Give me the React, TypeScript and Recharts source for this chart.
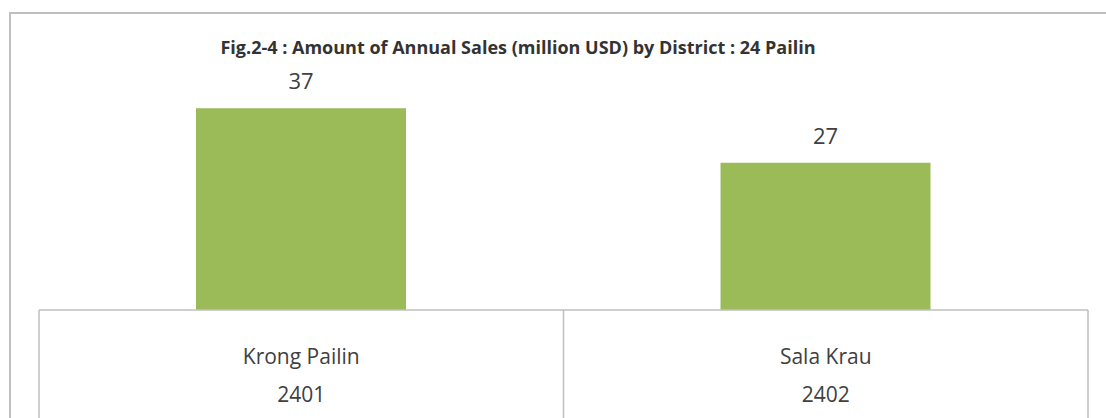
import React from 'react';
import { BarChart, Bar, XAxis, YAxis, LabelList } from 'recharts';

const districts = ['Krong Pailin', 'Sala Krau'];
const districtCodes = ['2401', '2402'];
const sales = [37, 27];

const chartData = districts.map((name, i) => ({
  name,
  code: districtCodes[i],
  sales: sales[i],
}));

const W = 1106;
const H = 418;
const MARGIN = { top: 92, right: 18, bottom: 0, left: 39 };
const AXIS_H = 108;
const AXIS_TOP = H - AXIS_H;
const FONT = '"Open Sans", "Noto Sans", sans-serif';
const GRID = '#bfbfbf';

// half width of one category band, for the divider lines under the bars
const halfBand = (W - MARGIN.left - MARGIN.right) / districts.length / 2;

const CategoryTick = (props: any) => {
  const { x, payload, index } = props;
  const row = chartData[index];
  return (
    <g>
      <line x1={x - halfBand} y1={AXIS_TOP} x2={x - halfBand} y2={H} stroke={GRID} strokeWidth={1.5} />
      {index === districts.length - 1 && (
        <line x1={x + halfBand} y1={AXIS_TOP} x2={x + halfBand} y2={H} stroke={GRID} strokeWidth={1.5} />
      )}
      <text x={x} y={AXIS_TOP + 54} textAnchor="middle" fontSize={21} fill="#404040" fontFamily={FONT}>
        {payload.value}
      </text>
      <text x={x} y={AXIS_TOP + 92} textAnchor="middle" fontSize={21} fill="#404040" fontFamily={FONT}>
        {row ? row.code : ''}
      </text>
    </g>
  );
};

export default function App() {
  return (
    <div style={{ position: 'absolute', left: 0, top: 0, width: W, height: H, background: '#fff' }}>
      <div
        style={{
          position: 'absolute',
          left: 9,
          top: 12,
          right: -4,
          bottom: -4,
          borderTop: `2px solid ${GRID}`,
          borderLeft: `2px solid ${GRID}`,
        }}
      />
      <BarChart width={W} height={H} data={chartData} margin={MARGIN} style={{ position: 'absolute', left: 0, top: 0 }}>
        <text x={518} y={54} textAnchor="middle" fontSize={18} fontWeight="bold" fill="#333" fontFamily={FONT}>
          Fig.2-4 : Amount of Annual Sales (million USD) by District : 24 Pailin
        </text>
        <XAxis
          dataKey="name"
          height={AXIS_H}
          axisLine={{ stroke: GRID, strokeWidth: 1.5 }}
          tickLine={false}
          tick={<CategoryTick />}
          interval={0}
        />
        <YAxis hide domain={[0, 40]} />
        <Bar dataKey="sales" fill="#9bbb59" barSize={210} isAnimationActive={false}>
          <LabelList dataKey="sales" position="top" offset={19} fontSize={22} fill="#404040" fontFamily={FONT} />
        </Bar>
      </BarChart>
    </div>
  );
}
